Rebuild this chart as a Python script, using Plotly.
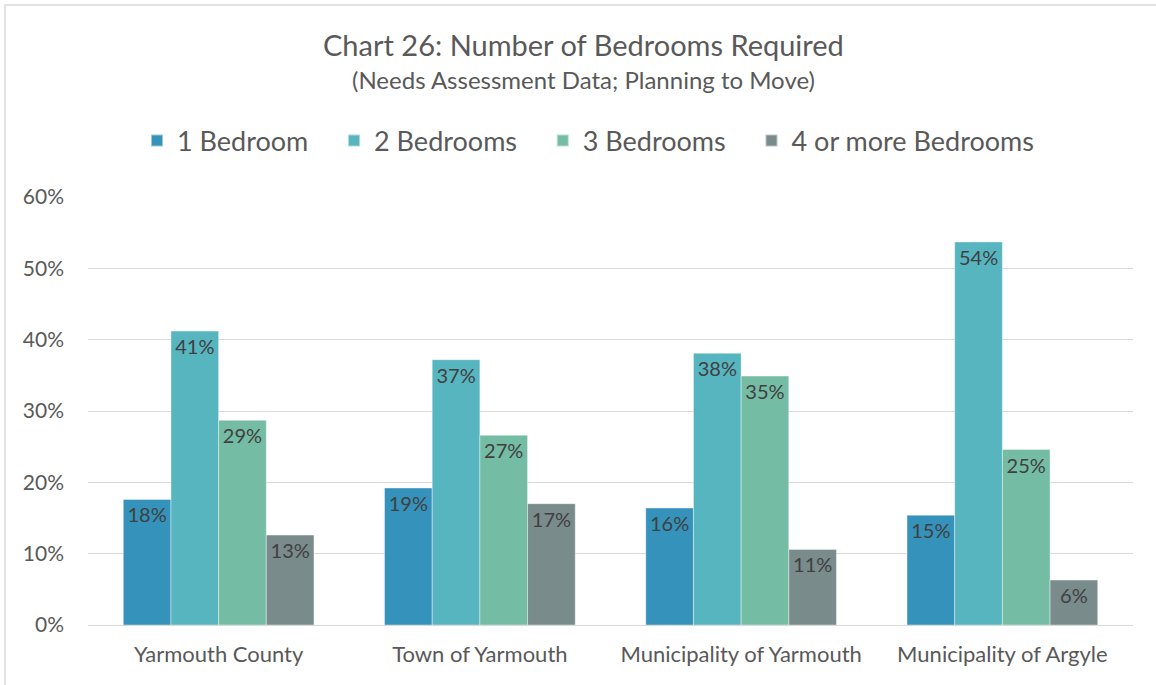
import plotly.graph_objects as go

categories = ["Yarmouth County", "Town of Yarmouth", "Municipality of Yarmouth", "Municipality of Argyle"]
series_names = ["1 Bedroom", "2 Bedrooms", "3 Bedrooms", "4 or more Bedrooms"]
one_bed = [0.176, 0.192, 0.164, 0.154]
two_bed = [0.412, 0.372, 0.381, 0.537]
three_bed = [0.287, 0.266, 0.349, 0.246]
four_bed = [0.126, 0.170, 0.106, 0.063]
colors = ["#3592BA", "#57B5C0", "#75BCA5", "#7A8B8C"]
y_ticks = [0, 0.1, 0.2, 0.3, 0.4, 0.5, 0.6]

W, H = 1156, 685
ml, mr, mt, mb = 88, 23, 197, 60
pw, ph = W - ml - mr, H - mt - mb

font_family = "Lato, 'Open Sans', sans-serif"
pad = "\u00a0" * 3

fig = go.Figure()
series_vals = [one_bed, two_bed, three_bed, four_bed]
for i, (name, vals, col) in enumerate(zip(series_names, series_vals, colors)):
    fig.add_trace(go.Bar(
        x=categories, y=vals,
        name=name + (pad if i < len(series_names) - 1 else ""),
        marker=dict(color=col, line=dict(color="rgba(255,255,255,0.5)", width=0.8)),
        text=[f"{int(v*100 + 0.5)}%" for v in vals],
        textposition="inside", insidetextanchor="end",
        textfont=dict(size=20, color="#404040", family=font_family),
        textangle=0,
        cliponaxis=False,
    ))

def px_x(x):
    return (x - ml) / pw

def px_y(y):
    return (H - mb - y) / ph

fig.update_layout(
    width=W, height=H,
    margin=dict(l=ml, r=mr, t=mt, b=mb),
    paper_bgcolor="white", plot_bgcolor="white",
    barmode="group", bargap=0.27, bargroupgap=0,
    uniformtext=dict(minsize=10, mode="show"),
    font=dict(family=font_family, color="#595959"),
    showlegend=True,
    legend=dict(
        orientation="h", x=px_x(588), xanchor="center", y=px_y(141), yanchor="middle",
        font=dict(size=27, color="#595959", family=font_family),
        itemsizing="constant", traceorder="normal", itemwidth=30,
    ),
    xaxis=dict(
        showgrid=False, showline=False, ticks="",
        tickfont=dict(size=22, color="#595959"),
        ticklabelstandoff=14,
    ),
    yaxis=dict(
        range=[0, 0.6], tickvals=y_ticks, tickformat=".0%",
        showgrid=True, gridcolor="#D9D9D9", gridwidth=1.3,
        zeroline=True, zerolinecolor="#D9D9D9", zerolinewidth=1.3,
        showline=False, ticks="",
        tickfont=dict(size=21, color="#595959"),
        ticklabelstandoff=23,
    ),
    annotations=[
        dict(text="Chart 26: Number of Bedrooms Required", xref="paper", yref="paper",
             x=px_x(583), y=px_y(45), xanchor="center", yanchor="middle", showarrow=False,
             font=dict(size=29, color="#595959", family=font_family)),
        dict(text="(Needs Assessment Data; Planning to Move)", xref="paper", yref="paper",
             x=px_x(583), y=px_y(80), xanchor="center", yanchor="middle", showarrow=False,
             font=dict(size=24, color="#595959", family=font_family)),
    ],
    shapes=[
        dict(type="rect", xref="paper", yref="paper",
             x0=px_x(5), x1=px_x(1165), y0=px_y(695), y1=px_y(5),
             line=dict(color="#D9D9D9", width=1.5), fillcolor="rgba(0,0,0,0)", layer="below"),
    ],
)

fig.write_html("out.html", config={"displayModeBar": False},
               post_script="document.body.style.margin='0';")
